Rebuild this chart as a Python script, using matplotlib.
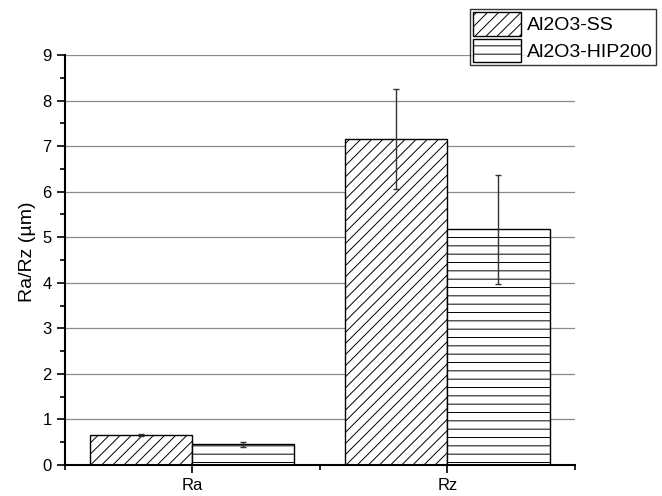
import numpy as np
import matplotlib.pyplot as plt
from matplotlib.ticker import MultipleLocator, FixedLocator

plt.rcParams['font.family'] = ['Liberation Sans', 'DejaVu Sans']
plt.rcParams['hatch.linewidth'] = 0.7

# roughness parameters
params = ["Ra", "Rz"]
ss_mean = [0.66, 7.16]
ss_err = [0.03, 1.10]
hip_mean = [0.46, 5.17]
hip_err = [0.055, 1.20]

x = np.arange(1, len(params) + 1)
w = 0.4

fig = plt.figure(figsize=(6.62, 4.96), dpi=100)
ax = fig.add_axes([0.098, 0.0625, 0.7706, 0.8266])

ax.grid(axis='y', color='#8a8a8a', linewidth=0.9, zorder=0)
ax.set_axisbelow(True)

ax.bar(x - w / 2, ss_mean, w, color='white', edgecolor='black', hatch='///',
       linewidth=1.0, label='Al2O3-SS', zorder=2)
ax.bar(x + w / 2, hip_mean, w, color='white', edgecolor='black', hatch='--',
       linewidth=1.0, label='Al2O3-HIP200', zorder=2)
ax.errorbar(x - w / 2, ss_mean, yerr=ss_err, fmt='none', ecolor='#333333',
            elinewidth=1.0, capsize=2.5, capthick=1.0, zorder=3)
ax.errorbar(x + w / 2, hip_mean, yerr=hip_err, fmt='none', ecolor='#333333',
            elinewidth=1.0, capsize=2.5, capthick=1.0, zorder=3)

ax.set_xlim(0.5, 2.5)
ax.set_ylim(0, 9)
ax.set_xticks(x)
ax.set_xticklabels(params)
ax.xaxis.set_minor_locator(FixedLocator([0.5, 1.5, 2.5]))
ax.yaxis.set_major_locator(MultipleLocator(1))
ax.yaxis.set_minor_locator(MultipleLocator(0.5))

ax.tick_params(axis='both', which='major', direction='out', length=6, width=1.2,
               labelsize=12)
ax.tick_params(axis='both', which='minor', direction='out', length=3.5, width=1.2)
ax.spines['top'].set_visible(False)
ax.spines['right'].set_visible(False)
ax.spines['left'].set_linewidth(1.5)
ax.spines['bottom'].set_linewidth(1.5)

ax.set_ylabel("Ra/Rz (µm)", fontsize=14)
ax.yaxis.set_label_coords(-0.057, 0.52)

leg = ax.legend(loc='upper left', bbox_to_anchor=(470 / 662, 1 - 9 / 496),
                bbox_transform=fig.transFigure, fontsize=14, frameon=True,
                fancybox=False, edgecolor='black', borderpad=0.15,
                handlelength=2.45, handleheight=1.5, handletextpad=0.35,
                labelspacing=0.15, borderaxespad=0)
leg.get_frame().set_linewidth(1.0)

fig.savefig("out.png", dpi=100)
